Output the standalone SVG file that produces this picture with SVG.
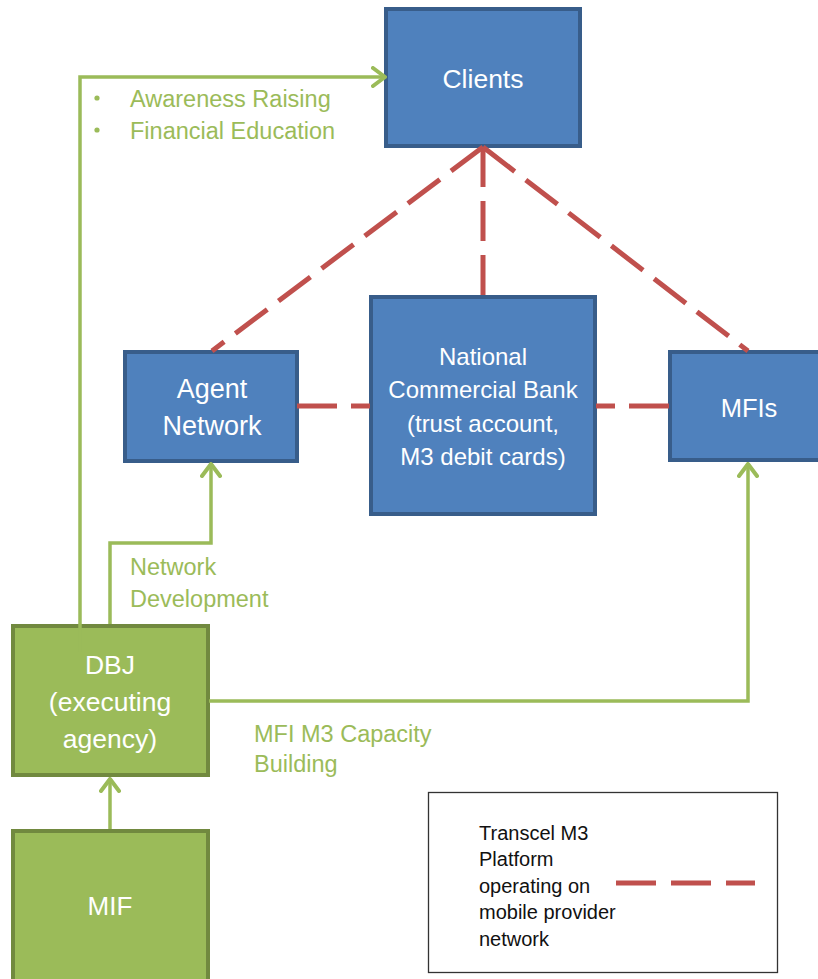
<svg xmlns="http://www.w3.org/2000/svg" width="818" height="979" viewBox="0 0 818 979">
<style>
.blue{fill:#4f81bd;stroke:#385d8a;stroke-width:4}
.green{fill:#9bbb59;stroke:#71893f;stroke-width:4}
.nt{font-family:"Liberation Sans",Arial,sans-serif;fill:#ffffff;text-anchor:middle}
.lbl{font-family:"Liberation Sans",Arial,sans-serif;fill:#9bbb59;font-size:23.5px}
.red{fill:none;stroke:#c0504d;stroke-width:5;stroke-dasharray:40 14}
.gl{fill:none;stroke:#9bbb59;stroke-width:3.5;marker-end:url(#arr)}
.leg{font-family:"Liberation Sans",Arial,sans-serif;fill:#111;font-size:20px}
</style>
<defs>
<marker id="arr" viewBox="0 0 16 22" refX="14" refY="11" markerWidth="16" markerHeight="22" markerUnits="userSpaceOnUse" orient="auto">
<path d="M2,2 L14,11 L2,20" fill="none" stroke="#9bbb59" stroke-width="4" stroke-linecap="round" stroke-linejoin="round"/>
</marker>
</defs>
<rect width="818" height="979" fill="#ffffff"/>
<g id="clients"><rect class="blue" x="386" y="9" width="194" height="137"/><text class="nt" x="483" y="88" font-size="26.5">Clients</text></g>
<g id="agent-network"><rect class="blue" x="125" y="352" width="172" height="109"/><text class="nt" x="212" y="398" font-size="27">Agent</text><text class="nt" x="212" y="435" font-size="27">Network</text></g>
<g id="ncb"><rect class="blue" x="371" y="297" width="224" height="217"/><text class="nt" x="483" y="365" font-size="24">National</text><text class="nt" x="483" y="398" font-size="24">Commercial Bank</text><text class="nt" x="483" y="432" font-size="24">(trust account,</text><text class="nt" x="483" y="465" font-size="24">M3 debit cards)</text></g>
<g id="mfis"><rect class="blue" x="670" y="352" width="160" height="108"/><text class="nt" x="749" y="417" font-size="25.5">MFIs</text></g>
<g id="dbj"><rect class="green" x="13" y="626" width="195" height="149"/><text class="nt" x="110" y="674" font-size="26.5">DBJ</text><text class="nt" x="110" y="711" font-size="26.5">(executing</text><text class="nt" x="110" y="748" font-size="26.5">agency)</text></g>
<g id="mif"><rect class="green" x="13" y="831" width="195" height="160"/><text class="nt" x="110" y="915" font-size="26">MIF</text></g>
<g id="connectors">
<line class="red" x1="483" y1="147" x2="212" y2="351"/>
<line class="red" x1="483" y1="147" x2="483" y2="296"/>
<line class="red" x1="483" y1="147" x2="748" y2="351"/>
<line class="red" x1="297" y1="406" x2="370" y2="406"/>
<line class="red" x1="669" y1="406" x2="596" y2="406"/>
<path class="gl" d="M80,652 V77 H385"/>
<path class="gl" d="M110,624 V543 H211 V464"/>
<path class="gl" d="M209,701 H748 V464"/>
<path class="gl" d="M110,829 V779"/>
</g>
<g id="labels">
<circle cx="97" cy="98" r="2.6" fill="#9bbb59"/>
<circle cx="97" cy="130" r="2.6" fill="#9bbb59"/>
<text class="lbl" x="130" y="107">Awareness Raising</text>
<text class="lbl" x="130" y="139">Financial Education</text>
<text class="lbl" x="130" y="575" font-size="24">Network</text>
<text class="lbl" x="130" y="607" font-size="24">Development</text>
<text class="lbl" x="254" y="742">MFI M3 Capacity</text>
<text class="lbl" x="254" y="772">Building</text>
</g>
<g id="legend">
<rect x="428.5" y="792.5" width="349" height="180" fill="#ffffff" stroke="#333333" stroke-width="1.3"/>
<text class="leg" x="479" y="840">Transcel M3</text>
<text class="leg" x="479" y="866">Platform</text>
<text class="leg" x="479" y="893">operating on</text>
<text class="leg" x="479" y="919">mobile provider</text>
<text class="leg" x="479" y="946">network</text>
<line x1="616" y1="883" x2="755" y2="883" stroke="#c0504d" stroke-width="5" stroke-dasharray="40 15"/>
</g>
</svg>
